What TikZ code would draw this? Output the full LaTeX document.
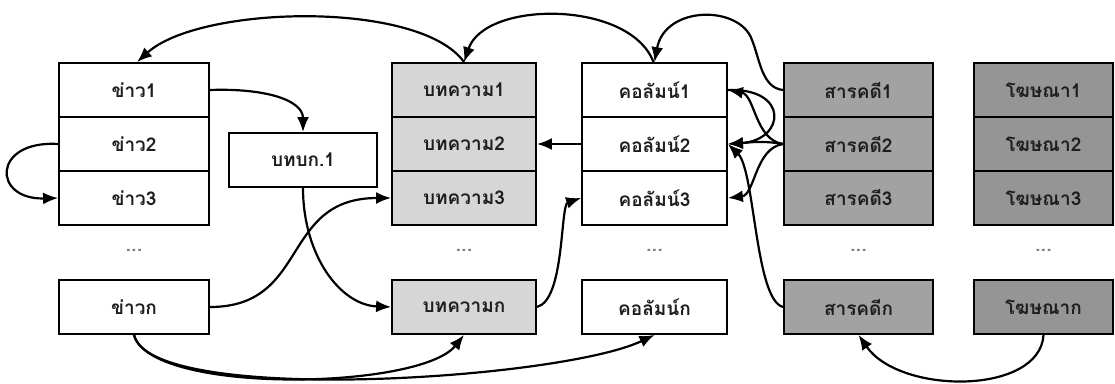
\documentclass[tikz,border=0pt]{standalone}
\usepackage{fontspec}
\newfontfamily\thaifont[Script=Thai]{Loma}
\usetikzlibrary{arrows.meta}
\definecolor{artfill}{HTML}{D6D6D6}
\definecolor{docfill}{HTML}{A2A2A2}
\definecolor{adfill}{HTML}{959595}
\definecolor{txt}{HTML}{1E1E1E}
\tikzset{
  cell/.style={draw=black, line width=1.8pt, minimum height=54pt, inner sep=0pt,
    font=\thaifont\bfseries\fontsize{19}{22}\selectfont, text=txt},
  newscell/.style={cell, minimum width=150pt, fill=white},
  edcell/.style={cell, minimum width=148pt, fill=white},
  artcell/.style={cell, minimum width=144pt, fill=artfill},
  colcell/.style={cell, minimum width=145pt, fill=white},
  doccell/.style={cell, minimum width=149pt, fill=docfill},
  adcell/.style={cell, minimum width=139pt, fill=adfill},
  dots/.style={font=\thaifont\bfseries\fontsize{20}{22}\selectfont, text=gray},
  link/.style={line width=2.2pt, -{Latex[length=15pt,width=12pt]}},
}
\begin{document}
\begin{tikzpicture}[x=1pt,y=-1pt]
\useasboundingbox (0,0) rectangle (1115,383);
% news column
\node[newscell] (n1) at (134,90) {ข่าว1};
\node[newscell] (n2) at (134,144) {ข่าว2};
\node[newscell] (n3) at (134,198) {ข่าว3};
\node[dots] (nd) at (134,250) {...};
\node[newscell] (nk) at (134,307) {ข่าวก};
% editorial
\node[edcell] (bb) at (303,160) {บทบก.1};
% articles
\node[artcell] (b1) at (464,90) {บทความ1};
\node[artcell] (b2) at (464,144) {บทความ2};
\node[artcell] (b3) at (464,198) {บทความ3};
\node[dots] (bd) at (464,250) {...};
\node[artcell] (bk) at (464,307) {บทความก};
% columns
\node[colcell] (c1) at (654.5,90) {คอลัมน์1};
\node[colcell] (c2) at (654.5,144) {คอลัมน์2};
\node[colcell] (c3) at (654.5,198) {คอลัมน์3};
\node[dots] (cd) at (654.5,250) {...};
\node[colcell] (ck) at (654.5,307) {คอลัมน์ก};
% documentaries
\node[doccell] (s1) at (858.5,90) {สารคดี1};
\node[doccell] (s2) at (858.5,144) {สารคดี2};
\node[doccell] (s3) at (858.5,198) {สารคดี3};
\node[dots] (sd) at (858.5,250) {...};
\node[doccell] (sk) at (858.5,307) {สารคดีก};
% ads
\node[adcell] (a1) at (1043.5,90) {โฆษณา1};
\node[adcell] (a2) at (1043.5,144) {โฆษณา2};
\node[adcell] (a3) at (1043.5,198) {โฆษณา3};
\node[dots] (ad) at (1043.5,250) {...};
\node[adcell] (ak) at (1043.5,307) {โฆษณาก};
% connectors
\draw[link] (b1.north) .. controls (420,0) and (200,5) .. ([xshift=3pt]n1.north);
\draw[link] ([xshift=-1pt]c1.north) .. controls (630,0) and (485,0) .. (b1.north);
\draw[link] (s1.west) .. controls (762,88) and (760,60) .. (752,40) .. controls (740,5) and (665,5) .. (c1.north);
\draw[link] (n1.east) .. controls (265,88) and (303,100) .. (bb.north);
\draw[link] (n2.west) .. controls (-8,140) and (-8,200) .. (n3.west);
\draw[link] (bb.south) .. controls (303,255) and (340,305) .. (bk.west);
\draw[link] (nk.east) .. controls (310,307) and (280,198) .. (b3.west);
\draw[link] (nk.south) .. controls (150,395) and (420,390) .. (bk.south);
\draw[link] (nk.south) .. controls (150,406) and (560,380) .. (ck.south);
\draw[link] (c2.west) -- (b2.east);
\draw[link] (bk.east) .. controls (565,300) and (560,205) .. (c3.west);
\draw[link] (s2.west) .. controls (755,140) and (755,95) .. (c1.east);
\draw[link] (s2.west) .. controls (760,140) and (745,143) .. (c2.east);
\draw[link] (s2.west) .. controls (755,148) and (755,195) .. (c3.east);
\draw[link] (c1.east) .. controls (790,88) and (785,140) .. (c2.east);
\draw[link] (sk.west) .. controls (755,300) and (755,170) .. (c2.east);
\draw[link] (ak.south) .. controls (1040,395) and (900,395) .. (sk.south);
\end{tikzpicture}
\end{document}
